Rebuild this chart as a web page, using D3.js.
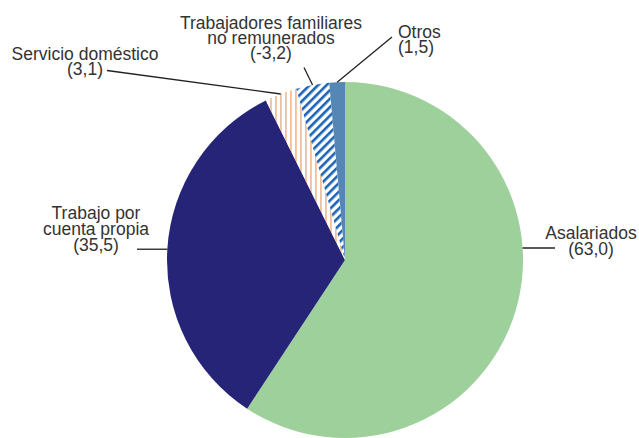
<!DOCTYPE html>
<html><head><meta charset="utf-8">
<script src="https://cdn.jsdelivr.net/npm/d3@7"></script>
<style>body{margin:0;background:#fff}svg{display:block}</style>
</head><body>
<script>
const categories = ["Asalariados","Trabajo por cuenta propia","Servicio doméstico","Trabajadores familiares no remunerados","Otros"];
const values = [63.0, 35.5, 3.1, -3.2, 1.5];
const labelLines = [
  ["Asalariados","(63,0)"],
  ["Trabajo por","cuenta propia","(35,5)"],
  ["Servicio doméstico","(3,1)"],
  ["Trabajadores familiares","no remunerados","(-3,2)"],
  ["Otros","(1,5)"]
];

const W = 639, H = 438, cx = 345, cy = 260, R = 178;
const svg = d3.select("body").append("svg").attr("width", W).attr("height", H);
const defs = svg.append("defs");

const p1 = defs.append("pattern").attr("id","vstripe").attr("patternUnits","userSpaceOnUse")
  .attr("width",5).attr("height",5);
p1.append("rect").attr("width",5).attr("height",5).attr("fill","#fff");
p1.append("rect").attr("x",0).attr("width",1.8).attr("height",5).attr("fill","#f0bf9c");

const p2 = defs.append("pattern").attr("id","diag").attr("patternUnits","userSpaceOnUse")
  .attr("width",6).attr("height",6).attr("patternTransform","rotate(45)");
p2.append("rect").attr("width",6).attr("height",6).attr("fill","#fff");
p2.append("rect").attr("x",0).attr("width",2.6).attr("height",6).attr("fill","#1b63b5");

const fills = ["#9dd09b","#262477","url(#vstripe)","url(#diag)","#5587b4"];

const pie = d3.pie().sort(null).value(d => Math.abs(d)).startAngle(0).endAngle(2*Math.PI);
const arcs = pie(values);
const arc = d3.arc().innerRadius(0).outerRadius(R);

const g = svg.append("g").attr("transform", `translate(${cx},${cy})`);
g.selectAll("path").data(arcs).enter().append("path")
  .attr("d", arc).attr("fill", (d,i) => fills[i]);

const leaders = [
  {out:[555,248], y:248},
  {out:[137,null]},
  {out:[107,70.5]},
  {out:[304,67.5]},
  {out:[392,37]}
];
const lg = svg.append("g").attr("stroke","#222").attr("stroke-width",1.3).attr("fill","none");
arcs.forEach((a,i) => {
  const L = leaders[i];
  let x1, y1;
  if (L.y !== undefined) {
    y1 = L.y; x1 = cx + Math.sqrt(R*R - (cy-L.y)*(cy-L.y));
  } else {
    const m = (a.startAngle + a.endAngle)/2;
    x1 = cx + R*Math.sin(m); y1 = cy - R*Math.cos(m);
  }
  const ox = L.out[0], oy = L.out[1] === null ? y1 : L.out[1];
  lg.append("line").attr("x1",ox).attr("y1",oy).attr("x2",x1).attr("y2",y1);
});

const labelPos = [
  {x:591, y:238.5, dy:16, anchor:"middle"},
  {x:96, y:218.5, dy:16, anchor:"middle"},
  {x:85, y:60, dy:15, anchor:"middle"},
  {x:271, y:29, dy:15.2, anchor:"middle"},
  {x:398, y:37.5, dy:15, anchor:"start"}
];
const tg = svg.append("g").attr("font-family","'Liberation Sans', Arial, sans-serif")
  .attr("font-size",17.5).attr("fill","#333");
labelLines.forEach((lines,i) => {
  const p = labelPos[i];
  const t = tg.append("text").attr("x",p.x).attr("y",p.y).attr("text-anchor",p.anchor);
  lines.forEach((s,j) => t.append("tspan").attr("x",p.x).attr("y",p.y + j*p.dy).text(s));
});
</script>
</body></html>
